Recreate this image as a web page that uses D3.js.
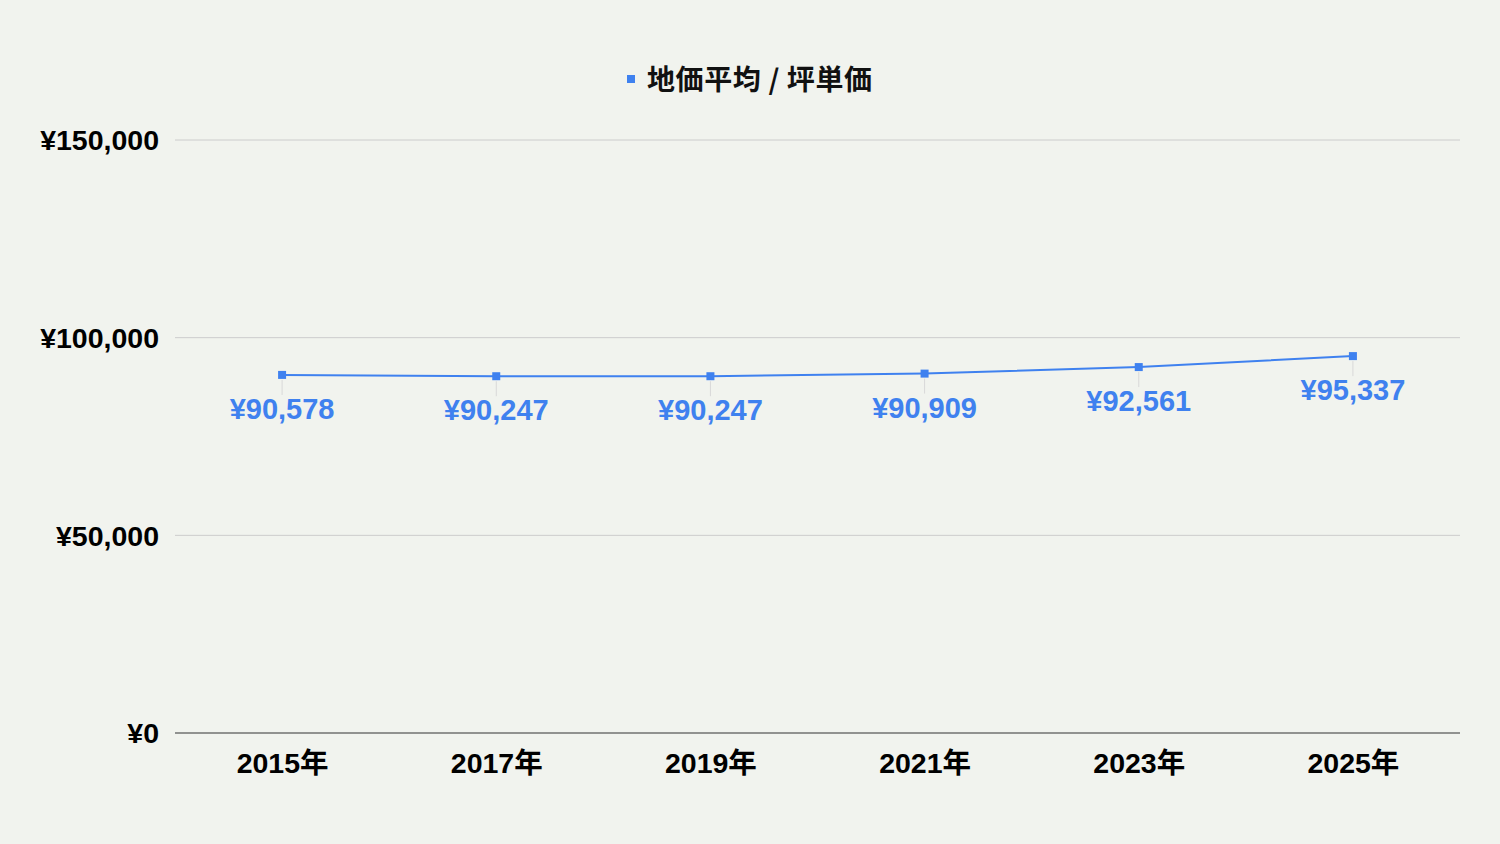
<!DOCTYPE html>
<html>
<head>
<meta charset="utf-8">
<script src="https://cdn.jsdelivr.net/npm/d3@7/dist/d3.min.js"></script>
<style>
html,body{margin:0;padding:0;background:#f1f3ee;}
svg{display:block;}
</style>
</head>
<body>
<svg id="chart" width="1500" height="844"></svg>
<script>
const categories = ["2015年","2017年","2019年","2021年","2023年","2025年"];
const values = [90578, 90247, 90247, 90909, 92561, 95337];
const yTicks = [0, 50000, 100000, 150000];
const seriesName = "地価平均 / 坪単価";

const W = 1500, H = 844;
const margin = {left:175, right:40, top:140, bottom:111};
const svg = d3.select("#chart");
const font = "'Liberation Sans', Arial, 'Noto Sans CJK JP', sans-serif";
const color = "#3f81ef";

svg.append("rect").attr("width",W).attr("height",H).attr("fill","#f1f3ee");

const x = d3.scalePoint().domain(categories).range([margin.left, W-margin.right]).padding(0.5);
const y = d3.scaleLinear().domain([0,150000]).range([H-margin.bottom, margin.top]);

const fmt = v => "¥" + d3.format(",")(v);

// gridlines
svg.append("g").selectAll("line").data(yTicks.filter(d=>d>0)).join("line")
  .attr("x1",margin.left).attr("x2",W-margin.right)
  .attr("y1",d=>y(d)).attr("y2",d=>y(d))
  .attr("stroke","#cccccc").attr("stroke-width",1);

// y axis labels
const yAxis = d3.axisLeft(y).tickValues(yTicks).tickFormat(fmt).tickSize(0).tickPadding(16);
const gy = svg.append("g").attr("transform",`translate(${margin.left},0)`).call(yAxis);
gy.select(".domain").remove();
gy.selectAll("text").attr("font-family",font).attr("font-size",28.5).attr("font-weight","bold").attr("fill","#000").attr("dy","0.35em");

// baseline
svg.append("line").attr("x1",margin.left).attr("x2",W-margin.right)
  .attr("y1",y(0)).attr("y2",y(0)).attr("stroke","#333").attr("stroke-width",1.2);

// x axis labels
const xAxis = d3.axisBottom(x).tickSize(0).tickPadding(20);
const gx = svg.append("g").attr("transform",`translate(0,${y(0)})`).call(xAxis);
gx.select(".domain").remove();
gx.selectAll("text").attr("font-family",font).attr("font-size",28.5).attr("font-weight","bold").attr("fill","#000");

const data = categories.map((c,i)=>({c, v:values[i]}));

// leader lines
svg.append("g").selectAll("line").data(data).join("line")
  .attr("x1",d=>x(d.c)).attr("x2",d=>x(d.c))
  .attr("y1",d=>y(d.v)+5).attr("y2",d=>y(d.v)+20)
  .attr("stroke","#d8d8d8").attr("stroke-width",1);

// line
svg.append("path").datum(data)
  .attr("d", d3.line().x(d=>x(d.c)).y(d=>y(d.v)))
  .attr("fill","none").attr("stroke",color).attr("stroke-width",2);

// markers
svg.append("g").selectAll("rect").data(data).join("rect")
  .attr("x",d=>x(d.c)-4).attr("y",d=>y(d.v)-4).attr("width",8).attr("height",8)
  .attr("fill",color);

// value labels
svg.append("g").selectAll("text").data(data).join("text")
  .attr("x",d=>x(d.c)).attr("y",d=>y(d.v)+44)
  .attr("text-anchor","middle")
  .attr("font-family",font).attr("font-size",29).attr("font-weight","bold")
  .attr("fill",color)
  .text(d=>fmt(d.v));

// legend
const lg = svg.append("g");
lg.append("rect").attr("x",627).attr("y",75).attr("width",8).attr("height",8).attr("fill",color);
lg.append("text").attr("x",647).attr("y",80).attr("dy","0.35em")
  .attr("font-family","'Noto Sans CJK JP', sans-serif").attr("font-size",28).attr("font-weight","bold")
  .attr("fill","#111").attr("textLength",225).attr("lengthAdjust","spacing").text(seriesName);
</script>
</body>
</html>
